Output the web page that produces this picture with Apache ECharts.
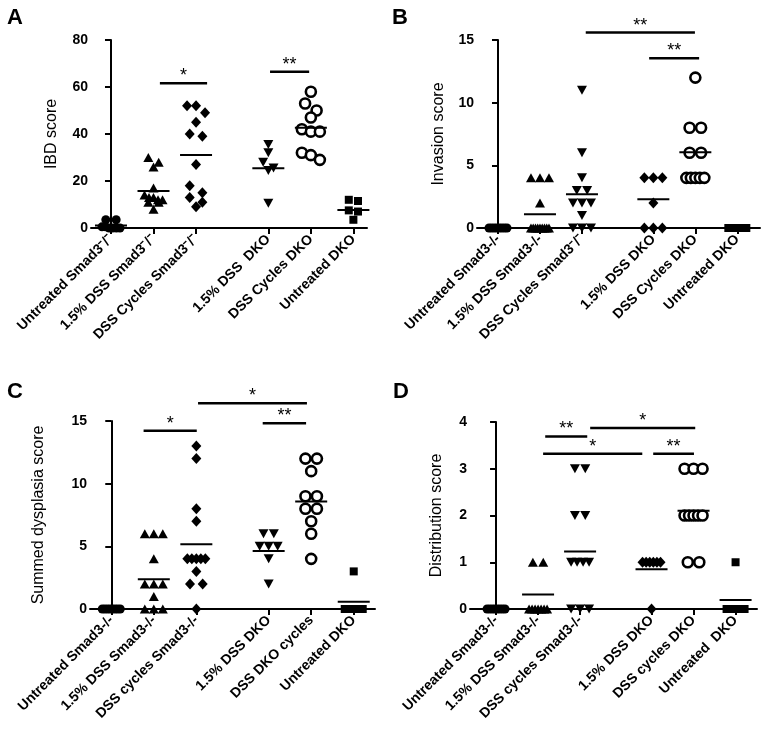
<!DOCTYPE html>
<html><head><meta charset="utf-8">
<script src="https://cdn.jsdelivr.net/npm/echarts@6/dist/echarts.min.js"></script>
<style>html,body{margin:0;padding:0;background:#fff}#c{width:765px;height:732px}</style>
</head><body><div id="c"></div>
<script>
// ---------- category positions (blank slot between the Smad3 and DKO groups)
const groupPos = [0, 1, 2, 3.7, 4.7, 5.7];

// ---------- Panel A : IBD score
const labelsA = ['Untreated Smad3\u207B/\u207B', '1.5% DSS Smad3\u207B/\u207B', 'DSS Cycles Smad3\u207B/\u207B', '1.5% DSS  DKO', 'DSS Cycles DKO', 'Untreated DKO'];
const ibdUntreatedSmad3 = [3.5, 3.5, 0.5, 0.5, 0, 0, 0, 0];
const ibdDss15Smad3 = [30, 28, 26, 17, 14, 13, 13, 12, 12, 11, 11, 8];
const ibdDssCyclesSmad3 = [52, 52, 49, 45, 40, 39, 27, 18, 15, 13, 11, 9];
const ibdDss15Dko = [35.5, 32, 28, 25.5, 24.5, 10.5];
const ibdDssCyclesDko = [58, 53, 50, 47, 41, 41, 42, 32, 31, 29];
const ibdUntreatedDko = [12, 11.5, 7.5, 7, 3.5];
const meansA = [1.1, 15.7, 31.1, 25.4, 42.7, 7.7];
const sigA = [[1.15, 2.26, 61.6, '*'], [3.74, 4.66, 66.5, '**']];
const ticksA = [0, 20, 40, 60, 80];

// ---------- Panel B : Invasion score
const labelsB = ['Untreated Smad3-/-', '1.5% DSS Smad3-/-', 'DSS Cycles Smad3\u207B/\u207B', '1.5% DSS DKO', 'DSS Cycles DKO', 'Untreated DKO'];
const invUntreatedSmad3 = [0, 0, 0, 0, 0, 0, 0, 0];
const invDss15Smad3 = [4, 4, 4, 2, 0, 0, 0, 0, 0, 0, 0, 0, 0];
const invDssCyclesSmad3 = [11, 6, 4, 3, 3, 2, 2, 2, 1, 0, 0, 0];
const invDss15Dko = [4, 4, 4, 2, 0, 0, 0];
const invDssCyclesDko = [12, 8, 8, 6, 6, 4, 4, 4, 4, 4];
const invUntreatedDko = [0, 0, 0, 0, 0];
const meansB = [0, 1.09, 2.69, 2.29, 6.04, 0];
const sigB = [[2.09, 4.69, 15.59, '**'], [3.6, 4.79, 13.54, '**']];
const ticksB = [0, 5, 10, 15];

// ---------- Panel C : Summed dysplasia score
const labelsC = ['Untreated Smad3-/-', '1.5% DSS Smad3-/-', 'DSS cycles Smad3-/-', '1.5% DSS DKO', 'DSS DKO cycles', 'Untreated DKO'];
const dysUntreatedSmad3 = [0, 0, 0, 0, 0, 0, 0, 0];
const dysDss15Smad3 = [6, 6, 6, 4, 2, 2, 2, 1, 0, 0, 0];
const dysDssCyclesSmad3 = [13, 12, 8, 7, 4, 4, 4, 4, 4, 3, 2, 2, 0];
const dysDss15Dko = [6, 6, 5, 5, 5, 4, 2];
const dysDssCyclesDko = [12, 12, 11, 9, 9, 8, 8, 7, 6, 4];
const dysUntreatedDko = [3, 0, 0, 0, 0];
const meansC = [0, 2.37, 5.16, 4.63, 8.57, 0.58];
const sigC = [[0.76, 2.01, 14.23, '*'], [2.04, 4.6, 16.42, '*'], [3.56, 4.58, 14.82, '**']];
const ticksC = [0, 5, 10, 15];

// ---------- Panel D : Distribution score
const labelsD = ['Untreated Smad3-/-', '1.5% DSS Smad3-/-', 'DSS cycles Smad3-/-', '1.5% DSS DKO', 'DSS cycles DKO', 'Untreated  DKO'];
const disUntreatedSmad3 = [0, 0, 0, 0, 0, 0, 0, 0];
const disDss15Smad3 = [1, 1, 0, 0, 0, 0, 0, 0, 0];
const disDssCyclesSmad3 = [3, 3, 2, 2, 1, 1, 1, 1, 0, 0, 0];
const disDss15Dko = [1, 1, 1, 1, 1, 1, 0];
const disDssCyclesDko = [3, 3, 3, 2, 2, 2, 2, 2, 1, 1];
const disUntreatedDko = [1, 0, 0, 0, 0];
const meansD = [0, 0.31, 1.23, 0.85, 2.1, 0.19];
const sigD = [[1.17, 2.17, 3.69, '**'], [2.24, 4.74, 3.87, '*'], [1.12, 3.48, 3.32, '*'], [3.74, 4.71, 3.32, '**']];
const ticksD = [0, 1, 2, 3, 4];

// ---------- marker styles
const M = {
  dot: {symbol: 'circle', size: 9, rot: 0, style: {color: '#000'}},
  tri: {symbol: 'triangle', size: [10, 9], rot: 0, style: {color: '#000'}},
  dia: {symbol: 'diamond', size: [10, 11], rot: 0, style: {color: '#000'}},
  inv: {symbol: 'triangle', size: [10, 9], rot: 180, style: {color: '#000'}},
  ring: {symbol: 'circle', size: 10, rot: 0, style: {color: '#fff', borderColor: '#000', borderWidth: 2.6}},
  sq: {symbol: 'rect', size: 8, rot: 0, style: {color: '#000'}}
};
const orderAC = [M.dot, M.tri, M.dia, M.inv, M.ring, M.sq];
const orderBD = [M.dot, M.tri, M.inv, M.dia, M.ring, M.sq];

// ---------- layout
const panels = [
  {letter: 'A', lx: 7, ly: 7, grid: {left: 91, top: 40, width: 276, height: 188}, xmin: -0.47, xmax: 6.02, ticks: ticksA, name: 'IBD score', nameGap: 31,
   labels: labelsA, marks: orderAC, data: [ibdUntreatedSmad3, ibdDss15Smad3, ibdDssCyclesSmad3, ibdDss15Dko, ibdDssCyclesDko, ibdUntreatedDko], means: meansA, sig: sigA},
  {letter: 'B', lx: 392, ly: 7, grid: {left: 477, top: 40, width: 283, height: 188}, xmin: -0.5, xmax: 6.24, ticks: ticksB, name: 'Invasion score', nameGap: 30,
   labels: labelsB, marks: orderBD, data: [invUntreatedSmad3, invDss15Smad3, invDssCyclesSmad3, invDss15Dko, invDssCyclesDko, invUntreatedDko], means: meansB, sig: sigB},
  {letter: 'C', lx: 7, ly: 381, grid: {left: 90, top: 421, width: 285, height: 188}, xmin: -0.5, xmax: 6.2, ticks: ticksC, name: 'Summed dysplasia score', nameGap: 43,
   labels: labelsC, marks: orderAC, data: [dysUntreatedSmad3, dysDss15Smad3, dysDssCyclesSmad3, dysDss15Dko, dysDssCyclesDko, dysUntreatedDko], means: meansC, sig: sigC},
  {letter: 'D', lx: 393, ly: 381, grid: {left: 470, top: 422, width: 287, height: 187}, xmin: -0.62, xmax: 6.21, ticks: ticksD, name: 'Distribution score', nameGap: 25,
   labels: labelsD, marks: orderBD, data: [disUntreatedSmad3, disDss15Smad3, disDssCyclesSmad3, disDss15Dko, disDssCyclesDko, disUntreatedDko], means: meansD, sig: sigD}
];

// simple dot-plot layout: points within about one marker height are put side by side
function swarm(vals, g, p, d) {
  const ymin = p.ticks[0], ymax = p.ticks[p.ticks.length - 1];
  const pxY = p.grid.height / (ymax - ymin);
  const pxX = p.grid.width / (p.xmax - p.xmin);
  const tol = d * 0.75, maxSpan = 18;
  const sorted = vals.slice().sort((a, b) => b - a);
  const rows = []; let cur = null;
  sorted.forEach(v => {
    if (cur && (cur[0] - v) * pxY < tol) cur.push(v); else { cur = [v]; rows.push(cur); }
  });
  const out = [];
  rows.forEach(r => {
    const k = r.length;
    const sp = k > 1 ? Math.min(d * 1.15, maxSpan / (k - 1)) : 0;
    r.forEach((v, j) => out.push([g + (j - (k - 1) / 2) * sp / pxX, v]));
  });
  return out;
}

const grid = [], xAxis = [], yAxis = [], series = [], graphic = [];
panels.forEach((p, pi) => {
  grid.push(Object.assign({containLabel: false}, p.grid));
  const labels = p.labels;
  xAxis.push({
    type: 'value', gridIndex: pi, min: p.xmin, max: p.xmax, splitLine: {show: false},
    axisLine: {show: true, onZero: false, lineStyle: {color: '#000', width: 2}},
    axisTick: {show: true, length: 6, lineStyle: {color: '#000', width: 2}, customValues: groupPos},
    axisLabel: {customValues: groupPos, rotate: 45, margin: 9, color: '#000', fontFamily: 'Arial', fontWeight: 'bold', fontSize: 14,
      formatter: v => { let best = 0; groupPos.forEach((g, i) => { if (Math.abs(g - v) < Math.abs(groupPos[best] - v)) best = i; }); return labels[best]; }}
  });
  yAxis.push({
    type: 'value', gridIndex: pi, min: p.ticks[0], max: p.ticks[p.ticks.length - 1], interval: p.ticks[1] - p.ticks[0],
    splitLine: {show: false},
    axisLine: {show: true, lineStyle: {color: '#000', width: 2}},
    axisTick: {show: true, length: 6, lineStyle: {color: '#000', width: 2}},
    axisLabel: {margin: 3, color: '#000', fontFamily: 'Arial', fontWeight: 'bold', fontSize: 14},
    name: p.name, nameLocation: 'middle', nameGap: p.nameGap,
    nameTextStyle: {color: '#000', fontFamily: 'Arial', fontSize: 16}
  });
  p.data.forEach((vals, gi) => {
    const m = p.marks[gi];
    const d = Array.isArray(m.size) ? m.size[1] : m.size;
    series.push({
      type: 'scatter', xAxisIndex: pi, yAxisIndex: pi, symbol: m.symbol, symbolSize: m.size, symbolRotate: m.rot,
      itemStyle: Object.assign({opacity: 1}, m.style), silent: true, z: 3,
      data: swarm(vals, groupPos[gi], p, d)
    });
  });
  series.push({
    type: 'custom', xAxisIndex: pi, yAxisIndex: pi, clip: false, silent: true, z: 4,
    encode: {x: 0, y: 1},
    data: groupPos.map((g, i) => [g, p.means[i]]),
    renderItem: (params, api) => {
      const c = api.coord([api.value(0), api.value(1)]);
      return {type: 'line', shape: {x1: c[0] - 16, y1: c[1], x2: c[0] + 16, y2: c[1]}, style: {stroke: '#000', lineWidth: 2}};
    }
  });
  const sig = p.sig;
  series.push({
    type: 'custom', xAxisIndex: pi, yAxisIndex: pi, clip: false, silent: true, z: 4,
    encode: {x: [0, 1], y: 2},
    data: sig.map(s => [s[0], s[1], s[2]]),
    renderItem: (params, api) => {
      const a = api.coord([api.value(0), api.value(2)]);
      const b = api.coord([api.value(1), api.value(2)]);
      return {type: 'group', children: [
        {type: 'line', shape: {x1: a[0], y1: a[1], x2: b[0], y2: b[1]}, style: {stroke: '#000', lineWidth: 2.5}},
        {type: 'text', x: (a[0] + b[0]) / 2, y: a[1] + 2, style: {text: sig[params.dataIndex][3], fill: '#000', font: '18px Arial', align: 'center', verticalAlign: 'bottom'}}
      ]};
    }
  });
  graphic.push({type: 'text', left: p.lx, top: p.ly, style: {text: p.letter, fill: '#000', font: 'bold 22px Arial'}});
});

const chart = echarts.init(document.getElementById('c'), null, {renderer: 'canvas'});
chart.setOption({animation: false, backgroundColor: '#fff', grid, xAxis, yAxis, series, graphic});
</script>
</body></html>
